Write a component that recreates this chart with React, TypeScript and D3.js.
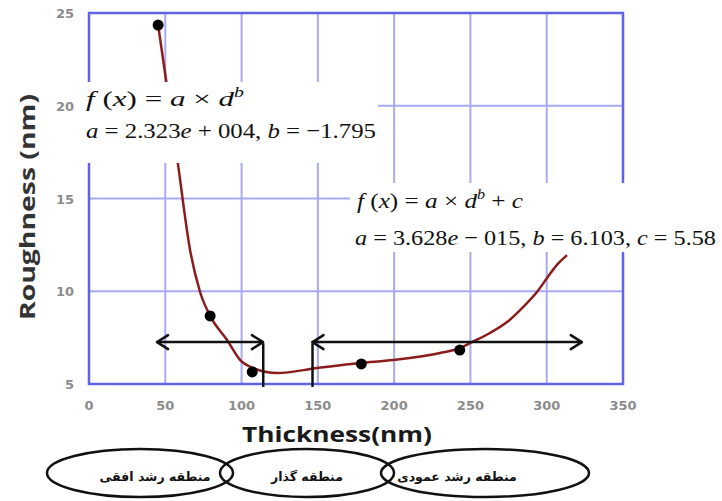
import React from "react";
import * as d3 from "d3";

// Measured data points
const thickness = [45.3, 79.4, 107, 178.5, 243];
const roughness = [24.35, 8.67, 5.65, 6.08, 6.83];

// Fitted curve
const curveX = [45.3, 50.5, 58.4, 66.3, 72.8, 79.4, 90.5, 99.1, 107.6, 123.3, 149.6, 177.8, 199.4, 230.1, 243.2, 251.0, 262.8, 274.0, 284.5, 293.6, 300.2, 306.7, 313.3];
const curveY = [24.35, 21.39, 16.8, 12.2, 9.96, 8.67, 7.37, 6.29, 5.86, 5.59, 5.86, 6.13, 6.29, 6.67, 6.94, 7.26, 7.75, 8.34, 9.15, 9.96, 10.71, 11.42, 11.95];

const xTicks = [0, 50, 100, 150, 200, 250, 300, 350];
const yTicks = [5, 10, 15, 20, 25];
const xGrid = [50, 100, 150, 200, 250, 300];
const yGrid = [10, 15, 20];

// Region arrows: [start, end, level], and boundary lines
const arrowStart = [44.6, 146.5];
const arrowEnd = [114, 323];
const arrowLevel = [7.26, 7.26];
const boundaryX = [114.2, 146.5];
const boundaryTop = 7.2;
const boundaryBottom = 4.84;

const regionLabels = ["منطقه رشد افقی", "منطقه گذار", "منطقه رشد عمودی"];

const W = 722, H = 501;
const x = d3.scaleLinear().domain([0, 350]).range([89, 623]);
const y = d3.scaleLinear().domain([5, 25]).range([384, 13]);

const serif = "'Liberation Serif', 'Times New Roman', serif";
const sans = "'Open Sans', 'DejaVu Sans', sans-serif";

function Arrow({ x1, x2, yv }: { x1: number; x2: number; yv: number }) {
  const a = x(x1), b = x(x2), yy = y(yv);
  const h = 11, s = 7;
  return (
    <g stroke="#111" strokeWidth={2.5} fill="none" strokeLinecap="round" strokeLinejoin="round">
      <line x1={a} y1={yy} x2={b} y2={yy} />
      <path d={`M${a + h},${yy - s} L${a},${yy} L${a + h},${yy + s}`} />
      <path d={`M${b - h},${yy - s} L${b},${yy} L${b - h},${yy + s}`} />
    </g>
  );
}

export default function App() {
  const line = d3
    .line<number>()
    .x((_, i) => x(curveX[i]))
    .y((_, i) => y(curveY[i]))
    .curve(d3.curveMonotoneX);
  const curvePath = line(curveX) || "";

  const ellipses = [
    { cx: 140, cy: 473, rx: 93, ry: 24 },
    { cx: 307, cy: 473, rx: 87, ry: 24 },
    { cx: 485, cy: 473, rx: 104, ry: 24 },
  ];
  const labelX = [155, 307, 457];

  return (
    <svg width={W} height={H} style={{ position: "absolute", left: 0, top: 0, background: "#fff" }}>
      <rect x={0} y={0} width={W} height={H} fill="#fff" />
      {/* grid */}
      <g stroke="#a9a9f2" strokeWidth={2}>
        {xGrid.map((v) => (
          <line key={"gx" + v} x1={x(v)} x2={x(v)} y1={y(25)} y2={y(5)} />
        ))}
        {yGrid.map((v) => (
          <line key={"gy" + v} x1={x(0)} x2={x(350)} y1={y(v)} y2={y(v)} />
        ))}
      </g>
      <rect x={x(0)} y={y(25)} width={x(350) - x(0)} height={y(5) - y(25)} fill="none" stroke="#6262e8" strokeWidth={2.5} />
      {/* curve */}
      <path d={curvePath} fill="none" stroke="#8b1c1c" strokeWidth={2.5} />
      {/* points */}
      {thickness.map((t, i) => (
        <circle key={"p" + i} cx={x(t)} cy={y(roughness[i])} r={5.5} fill="#000" />
      ))}
      {/* arrows */}
      {arrowStart.map((s, i) => (
        <Arrow key={"a" + i} x1={s} x2={arrowEnd[i]} yv={arrowLevel[i]} />
      ))}
      {boundaryX.map((b, i) => (
        <line key={"b" + i} x1={x(b)} x2={x(b)} y1={y(boundaryTop)} y2={y(boundaryBottom)} stroke="#111" strokeWidth={2.5} />
      ))}
      {/* tick labels */}
      <g fontFamily="'DejaVu Sans', Verdana, sans-serif" fontSize={13} fontWeight="bold" fill="#8c8c8c">
        {xTicks.map((v) => (
          <text key={"tx" + v} x={x(v)} y={410} textAnchor="middle">{v}</text>
        ))}
        {yTicks.map((v) => (
          <text key={"ty" + v} x={74} y={y(v) + 5} textAnchor="end">{v}</text>
        ))}
      </g>
      {/* axis titles */}
      <text x={242} y={442} textLength={190} lengthAdjust="spacingAndGlyphs" fontFamily={sans} fontWeight="bold" fontSize={22} fill="#1a1a1a">
        Thickness(nm)
      </text>
      <text transform={`translate(35,207) rotate(-90)`} x={-113} y={0} textLength={226} lengthAdjust="spacingAndGlyphs" fontFamily={sans} fontWeight="bold" fontSize={21} fill="#333">
        Roughness (nm)
      </text>
      {/* equation box 1 */}
      <rect x={80} y={82} width={298} height={81} fill="#fff" />
      <text x={86} y={106} textLength={158} lengthAdjust="spacingAndGlyphs" fontFamily={serif} fontSize={22} fill="#111">
        <tspan fontStyle="italic">f</tspan>
        <tspan> (</tspan>
        <tspan fontStyle="italic">x</tspan>
        <tspan>) = </tspan>
        <tspan fontStyle="italic">a</tspan>
        <tspan> × </tspan>
        <tspan fontStyle="italic">d</tspan>
        <tspan fontStyle="italic" fontSize={14} dy={-9}>b</tspan>
      </text>
      <text x={86} y={138} textLength={290} lengthAdjust="spacingAndGlyphs" fontFamily={serif} fontSize={22} fill="#111">
        <tspan fontStyle="italic">a</tspan>
        <tspan> = 2.323</tspan>
        <tspan fontStyle="italic">e</tspan>
        <tspan> + 004, </tspan>
        <tspan fontStyle="italic">b</tspan>
        <tspan> = −1.795</tspan>
      </text>
      {/* equation box 2 */}
      <rect x={350} y={183} width={368} height={69} fill="#fff" />
      <text x={357} y={208} textLength={166} lengthAdjust="spacingAndGlyphs" fontFamily={serif} fontSize={22} fill="#111">
        <tspan fontStyle="italic">f</tspan>
        <tspan> (</tspan>
        <tspan fontStyle="italic">x</tspan>
        <tspan>) = </tspan>
        <tspan fontStyle="italic">a</tspan>
        <tspan> × </tspan>
        <tspan fontStyle="italic">d</tspan>
        <tspan fontStyle="italic" fontSize={14} dy={-9}>b</tspan>
        <tspan dy={9}> + </tspan>
        <tspan fontStyle="italic">c</tspan>
      </text>
      <text x={355} y={245} textLength={361} lengthAdjust="spacingAndGlyphs" fontFamily={serif} fontSize={22} fill="#111">
        <tspan fontStyle="italic">a</tspan>
        <tspan> = 3.628</tspan>
        <tspan fontStyle="italic">e</tspan>
        <tspan> − 015, </tspan>
        <tspan fontStyle="italic">b</tspan>
        <tspan> = 6.103, </tspan>
        <tspan fontStyle="italic">c</tspan>
        <tspan> = 5.58</tspan>
      </text>
      {/* region ellipses */}
      {ellipses.map((e, i) => (
        <ellipse key={"e" + i} cx={e.cx} cy={e.cy} rx={e.rx} ry={e.ry} fill="none" stroke="#111" strokeWidth={2.5} />
      ))}
      {regionLabels.map((l, i) => (
        <text key={"l" + i} x={labelX[i]} y={481} textAnchor="middle" fontFamily="'DejaVu Sans', sans-serif" fontWeight="bold" fontSize={12.5} fill="#111">
          {l}
        </text>
      ))}
    </svg>
  );
}
